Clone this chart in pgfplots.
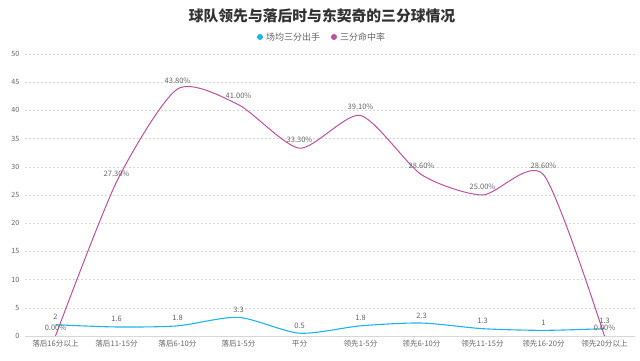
\documentclass[border=0pt]{standalone}
\usepackage{fontspec}
\setmainfont{Noto Sans CJK SC}
\usepackage{pgfplots}
\pgfplotsset{compat=1.18}
\definecolor{cblue}{RGB}{30,180,235}
\definecolor{cpurp}{RGB}{190,80,160}
\definecolor{tickc}{RGB}{100,100,100}
\definecolor{gridc}{RGB}{215,215,215}
\begin{document}
\begin{tikzpicture}[x=1pt,y=1pt]
\begin{axis}[
  at={(25pt,25pt)}, anchor=south west,
  scale only axis, width=610pt, height=282pt,
  xmin=-0.5, xmax=9.5, ymin=0, ymax=50,
  ytick={0,5,...,50},
  xtick={0,...,9},
  xticklabels={落后16分以上,落后11-15分,落后6-10分,落后1-5分,平分,领先1-5分,领先6-10分,领先11-15分,领先16-20分,领先20分以上},
  axis line style={draw=none},
  axis x line*=bottom, axis y line*=left,
  major tick length=0pt,
  ymajorgrids, grid style={gridc, dash pattern=on 2pt off 2pt, line width=0.5pt},
  tick label style={font=\fontsize{7.6}{8}\selectfont, text=tickc},
  yticklabel style={xshift=-2pt, font=\fontsize{7.2}{8}\selectfont},
  xticklabel style={yshift=-1pt},
  /pgf/number format/assume math mode=true,
  clip=false,
]
\draw[gridc, line width=0.8pt] (axis cs:-0.5,0) -- (axis cs:9.5,0);
\addplot[cblue, line width=1.1pt, smooth, tension=0.45,
  nodes near coords, point meta=explicit symbolic,
  every node near coord/.style={font=\fontsize{7.5}{8}\selectfont, text=tickc, anchor=south, yshift=1pt}]
  coordinates {
  (0,2) [2] (1,1.6) [1.6] (2,1.8) [1.8] (3,3.3) [3.3] (4,0.5) [0.5]
  (5,1.8) [1.8] (6,2.3) [2.3] (7,1.3) [1.3] (8,1) [1] (9,1.3) [1.3]};
\addplot[cpurp, line width=1pt, smooth, tension=0.42,
  nodes near coords, point meta=explicit symbolic,
  every node near coord/.style={font=\fontsize{7.5}{8}\selectfont, text=tickc, anchor=south, yshift=2pt}]
  coordinates {
  (0,0) [0.00\%] (1,27.3) [27.30\%] (2,43.8) [43.80\%] (3,41.0) [41.00\%] (4,33.3) [33.30\%]
  (5,39.1) [39.10\%] (6,28.6) [28.60\%] (7,25.0) [25.00\%] (8,28.6) [28.60\%] (9,0) [0.00\%]};
\end{axis}
\node[font=\bfseries\fontsize{14.8}{16}\selectfont, text={rgb,255:red,50;green,50;blue,50}] at (322pt,345pt) {球队领先与落后时与东契奇的三分球情况};
\fill[cblue] (260pt,324pt) circle (3pt);
\node[anchor=west, font=\fontsize{9}{10}\selectfont, text=tickc, inner sep=0pt] at (266pt,324pt) {场均三分出手};
\fill[cpurp] (334pt,324pt) circle (3pt);
\node[anchor=west, font=\fontsize{9}{10}\selectfont, text=tickc, inner sep=0pt] at (340pt,324pt) {三分命中率};
\pgfresetboundingbox
\path[use as bounding box] (0,0) rectangle (640pt,361pt);
\end{tikzpicture}
\end{document}
